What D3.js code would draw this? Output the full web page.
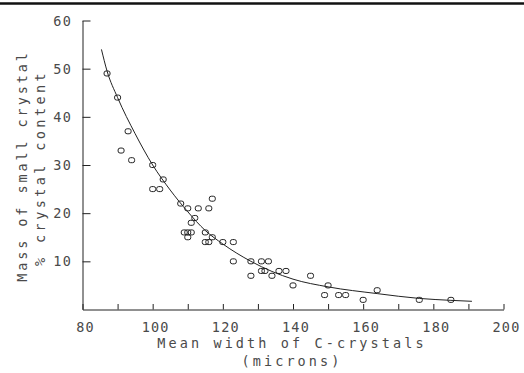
<!DOCTYPE html>
<html><head><meta charset="utf-8">
<script src="https://cdn.jsdelivr.net/npm/d3@7"></script>
<style>
html,body{margin:0;padding:0;background:#fff;}
svg{display:block;}
text{font-family:"DejaVu Sans Mono",monospace;fill:#4a4a4a;}
</style></head>
<body>
<svg id="c" width="524" height="373"></svg>
<script>
// Data
const widths = [87,90,93,91,94,100,103,100,102,108,110,113,116,117,112,111,109,110,111,110,115,117,115,116,120,123,123,128,131,133,131,132,128,134,136,138,145,140,150,149,153,155,160,164,176,185];
const masses = [49,44,37,33,31,30,27,25,25,22,21,21,21,23,19,18,16,16,16,15,16,15,14,14,14,14,10,10,10,10,8,8,7,7,8,8,7,5,5,3,3,3,2,4,2,2];
// fitted curve
const curveX = [85.4,87,90,95,100,105,110,115,120,128,140,150,164,176,185,191];
const curveY = [54,49.5,44,36.5,30,24.8,20.3,16.4,13.6,10,6.3,4.7,3.3,2.3,1.9,1.7];
const xTicks = [80,90,100,110,120,130,140,150,160,170,180,190,200];
const xTickLabels = [80,100,120,140,160,180,200];
const yTicks = [10,20,30,40,50,60];
const xTitle = ["Mean width of C-crystals","(microns)"];
const yTitle = ["Mass of small crystal","% crystal content"];

const svg = d3.select("#c");
const x = d3.scaleLinear().domain([80,200]).range([82.5,503.5]);
const y = d3.scaleLinear().domain([0,60]).range([309.5,20.5]);
const ink = "#222";

// top border
svg.append("line").attr("x1",0).attr("x2",524).attr("y1",3.5).attr("y2",3.5)
  .attr("stroke","#111").attr("stroke-width",2.5);

// x axis
const xAxis = d3.axisBottom(x).tickValues(xTicks).tickSizeInner(-5).tickSizeOuter(0).tickFormat("");
const gx = svg.append("g").attr("transform",`translate(0,${y(0)})`).call(xAxis);
gx.selectAll("path,line").attr("stroke",ink).attr("stroke-width",1);
gx.selectAll(".tick line").attr("y1",0).attr("y2",-5.5);

svg.append("g").selectAll("text").data(xTickLabels).join("text")
  .attr("x",d=>x(d)+3).attr("y",332).attr("text-anchor","middle")
  .attr("font-size",13.5).attr("letter-spacing",1.2).text(d=>d);

// y axis
const yAxis = d3.axisLeft(y).tickValues(yTicks).tickSizeInner(-8).tickSizeOuter(0).tickFormat("");
const gy = svg.append("g").attr("transform",`translate(${x(80)},0)`).call(yAxis);
gy.selectAll("path,line").attr("stroke",ink).attr("stroke-width",1);

svg.append("g").selectAll("text").data(yTicks).join("text")
  .attr("x",72).attr("y",d=>y(d)+5).attr("text-anchor","end")
  .attr("font-size",13.5).attr("letter-spacing",1.2).text(d=>d);

// titles
svg.append("text").attr("x",292).attr("y",348).attr("text-anchor","middle")
  .attr("font-size",13.5).attr("letter-spacing",3.1).text(xTitle[0]);
svg.append("text").attr("x",292).attr("y",366).attr("text-anchor","middle")
  .attr("font-size",13.5).attr("letter-spacing",3.1).text(xTitle[1]);
svg.append("text").attr("transform","translate(27,166) rotate(-90)").attr("text-anchor","middle")
  .attr("font-size",13.5).attr("letter-spacing",2.9).text(yTitle[0]);
svg.append("text").attr("transform","translate(45,168) rotate(-90)").attr("text-anchor","middle")
  .attr("font-size",13.5).attr("letter-spacing",3.4).text(yTitle[1]);

// curve
const line = d3.line().x(d=>x(d[0])).y(d=>y(d[1])).curve(d3.curveMonotoneX);
svg.append("path").datum(curveX.map((v,i)=>[v,curveY[i]]))
  .attr("d",line).attr("fill","none").attr("stroke",ink).attr("stroke-width",1);

// points
svg.append("g").selectAll("rect").data(widths.map((v,i)=>[v,masses[i]])).join("rect")
  .attr("x",d=>x(d[0])-3).attr("y",d=>y(d[1])-2.5)
  .attr("width",6).attr("height",5).attr("rx",2)
  .attr("fill","#fff").attr("fill-opacity",0).attr("stroke",ink).attr("stroke-width",1);
</script>
</body></html>
